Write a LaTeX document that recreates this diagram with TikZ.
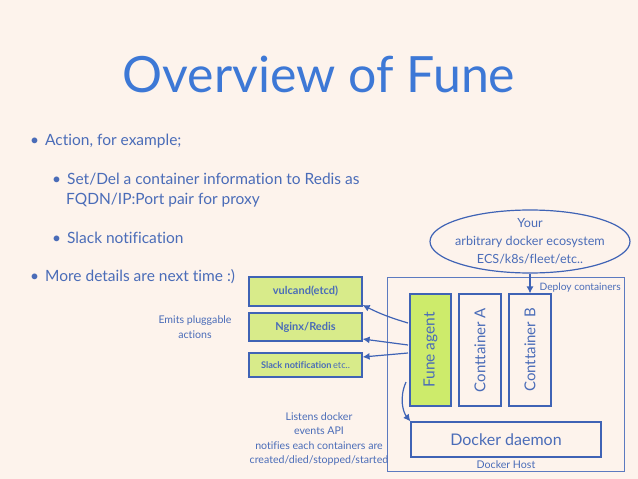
\documentclass[tikz,border=0pt]{standalone}
\usepackage{fontspec}
\setmainfont[Ligatures={NoCommon}]{Lato}
\usetikzlibrary{shapes.geometric,arrows.meta}
\definecolor{bg}{HTML}{FDF3EC}
\definecolor{ink}{HTML}{4A6CB8}
\definecolor{titleblue}{HTML}{3D78D6}
\definecolor{lime}{HTML}{D8EB8A}
\definecolor{agentgreen}{HTML}{CDEB6B}
\definecolor{edge}{HTML}{3F63B5}
\begin{document}
\begin{tikzpicture}[x=1pt,y=-1pt,
  box/.style={draw=edge, line width=1.2pt, fill=lime, text=ink, font=\bfseries\fontsize{11}{13}\selectfont, inner sep=0pt, minimum width=113pt},
  tall/.style={draw=edge, line width=1.1pt, text=ink, font=\fontsize{15}{18}\selectfont, inner sep=0pt, minimum width=42pt, minimum height=112pt},
  bul/.style={anchor=base west, text=ink, font=\fontsize{15.5}{18}\selectfont, inner sep=0pt},
  note/.style={text=ink, font=\fontsize{10.6}{14.5}\selectfont, align=center, inner sep=0pt},
  arr/.style={draw=edge, line width=1.2pt, -{Latex[length=7pt,width=7pt]}},
]
\fill[bg] (0,0) rectangle (638,479);
\useasboundingbox (0,0) rectangle (638,479);

% title
\node[anchor=base, text=titleblue, font=\fontsize{50}{56}\selectfont, inner sep=0pt] (title) at (319,92) {Overview of Fune};

% bullets
\node[bul] (b1) at (30,145) {•\hspace{6pt}Action, for example;};
\node[bul] (b2) at (52,184) {•\hspace{6pt}Set/Del a container information to Redis as};
\node[bul] (b3) at (66,204) {FQDN/IP:Port pair for proxy};
\node[bul] (b4) at (52,243) {•\hspace{6pt}Slack notification};
\node[bul] (b5) at (30,281) {•\hspace{6pt}More details are next time :)};

% plugin boxes
\node[box, minimum height=29pt] (vulcand) at (305.5,291.5) {vulcand(etcd)};
\node[box, minimum height=28pt] (nginx) at (305.5,327) {Nginx/Redis};
\node[box, minimum height=24pt, font=\bfseries\fontsize{9.2}{11}\selectfont] (slack) at (305.5,365) {Slack notification\,{\mdseries etc..}};

\node[note] (emits) at (195,327) {Emits pluggable\\actions};

% docker host
\node[draw=edge!85, line width=0.9pt, minimum width=237pt, minimum height=194pt, inner sep=0pt] (host) at (505.5,374) {};
\node[note, anchor=base] (hostlbl) at (506,468) {Docker Host};
\node[note, anchor=base east, font=\fontsize{10.2}{12}\selectfont] (deploy) at (621,290) {Deploy containers};

\node[tall, fill=agentgreen, minimum width=41pt] (agent) at (430.5,350) {};
\node[rotate=90, text=ink, font=\fontsize{15.5}{18}\selectfont] (agentlbl) at (agent.center) {Fune agent};
\node[tall] (contA) at (480,350) {};
\node[rotate=90, text=ink, font=\fontsize{15}{18}\selectfont] (contAlbl) at (contA.center) {Conttainer A};
\node[tall] (contB) at (530,350) {};
\node[rotate=90, text=ink, font=\fontsize{15}{18}\selectfont] (contBlbl) at (contB.center) {Conttainer B};

\node[draw=edge, line width=1.2pt, minimum width=190pt, minimum height=35pt, text=ink, font=\fontsize{16}{19}\selectfont, inner sep=0pt] (daemon) at (506,439.5) {Docker daemon};

% ecosystem
\node[ellipse, draw=edge, line width=1.2pt, minimum width=200pt, minimum height=63pt, inner sep=-7pt, text=ink, font=\fontsize{12.6}{18}\selectfont, align=center] (eco) at (530,241.5) {Your\\arbitrary docker ecosystem\\ECS/k8s/fleet/etc..};

\node[note] (listens) at (319,439) {Listens docker\\events API\\notifies each containers are\\created/died/stopped/started};

% connectors
\draw[arr] (eco.south) -- (contB.north);
\coordinate (a1) at (408,323);
\coordinate (a2) at (408,345);
\coordinate (a3) at (408,353);
\draw[arr] (a1) to[bend left=5] (vulcand.east |- 0,305);
\draw[arr] (a2) -- (nginx.east |- 0,339);
\draw[arr] (a3) -- (slack.east |- 0,357);
\coordinate (c1) at (406,382);
\draw[arr] (c1) .. controls (399,398) and (403,412) .. (daemon.north west);
\end{tikzpicture}
\end{document}
